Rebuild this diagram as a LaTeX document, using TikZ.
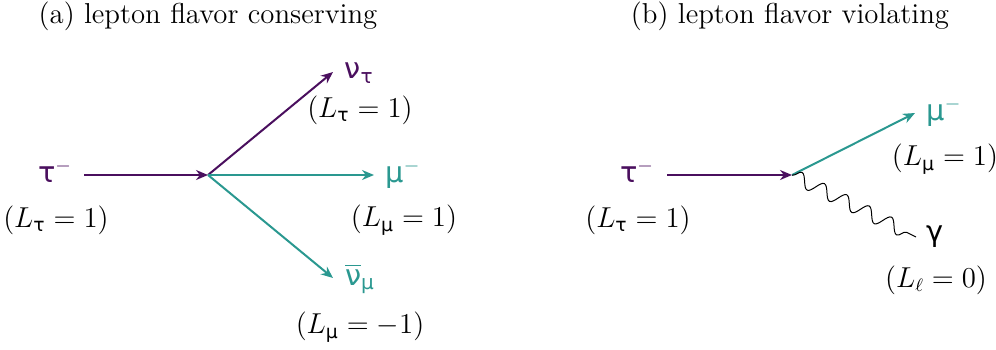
\documentclass[tikz,border=0pt]{standalone}
\usepackage{amsmath}
\usepackage{fontspec}
\newfontfamily\gkfont{DejaVu Sans}
\usetikzlibrary{arrows.meta,positioning,decorations.pathmorphing}
\definecolor{lepPurple}{HTML}{4A0F5E}
\definecolor{lepTeal}{HTML}{2A9890}
\newcommand{\gk}[1]{\text{\gkfont #1}}

\begin{document}
\begin{tikzpicture}[
    x=0.5pt,
    y=-0.5pt,
    ptl/.style={font=\Large, inner sep=1pt},
    num/.style={font=\fontsize{13.4}{16}\selectfont, inner sep=1pt},
    ttl/.style={font=\Large, inner sep=1pt},
    fermion/.style={line width=1pt, -{Stealth[length=6pt,width=5pt]}},
    photon/.style={line width=0.5pt, decorate,
      decoration={snake, amplitude=3.4pt, segment length=12.5pt, post length=2pt}}
]
\useasboundingbox (0,0) rectangle (996,349);

% (a) conserving
\node[ttl] (titleA) at (208,16) {(a) lepton flavor conserving};
\coordinate (vtxA) at (208,175);
\coordinate (startA) at (84,175);
\coordinate (nuEnd) at (333,72);
\coordinate (muEndA) at (374,175);
\coordinate (nubarEnd) at (333,278);

\node[ptl, lepPurple] (tauA) at (55,171) {$\gk{τ}^{-}$};
\node[num] (ltauA) at (56,220) {$(L_{\gk{τ}} = 1)$};
\node[ptl, lepPurple] (nutau) at (359,73) {$\gk{ν}_{\gk{τ}}$};
\node[num] (lnutau) at (360,110) {$(L_{\gk{τ}} = 1)$};
\node[ptl, lepTeal] (muA) at (403,174) {$\gk{μ}^{-}$};
\node[num] (lmuA) at (404,220) {$(L_{\gk{μ}} = 1)$};
\node[ptl, lepTeal] (numubar) at (360,279) {$\overline{\gk{ν}}_{\gk{μ}}$};
\node[num] (lnumubar) at (360,327) {$(L_{\gk{μ}} = -1)$};

\draw[fermion, lepPurple] (startA) -- (vtxA);
\draw[fermion, lepPurple] (vtxA) -- (nuEnd);
\draw[fermion, lepTeal] (vtxA) -- (muEndA);
\draw[fermion, lepTeal] (vtxA) -- (nubarEnd);

% (b) violating
\node[ttl] (titleB) at (790,16) {(b) lepton flavor violating};
\coordinate (vtxB) at (792,175);
\coordinate (startB) at (667,175);
\coordinate (muEndB) at (915,113);
\coordinate (gamEnd) at (916,237);

\node[ptl, lepPurple] (tauB) at (637,171) {$\gk{τ}^{-}$};
\node[num] (ltauB) at (638,220) {$(L_{\gk{τ}} = 1)$};
\node[ptl, lepTeal] (muB) at (944,112) {$\gk{μ}^{-}$};
\node[num] (lmuB) at (945,159) {$(L_{\gk{μ}} = 1)$};
\node[ptl] (gam) at (935,237) {$\gk{γ}$};
\node[num] (lgam) at (936,280) {$(L_{\ell} = 0)$};

\draw[fermion, lepPurple] (startB) -- (vtxB);
\draw[fermion, lepTeal] (vtxB) -- (muEndB);
\draw[photon] (vtxB) -- (gamEnd);
\end{tikzpicture}
\end{document}
